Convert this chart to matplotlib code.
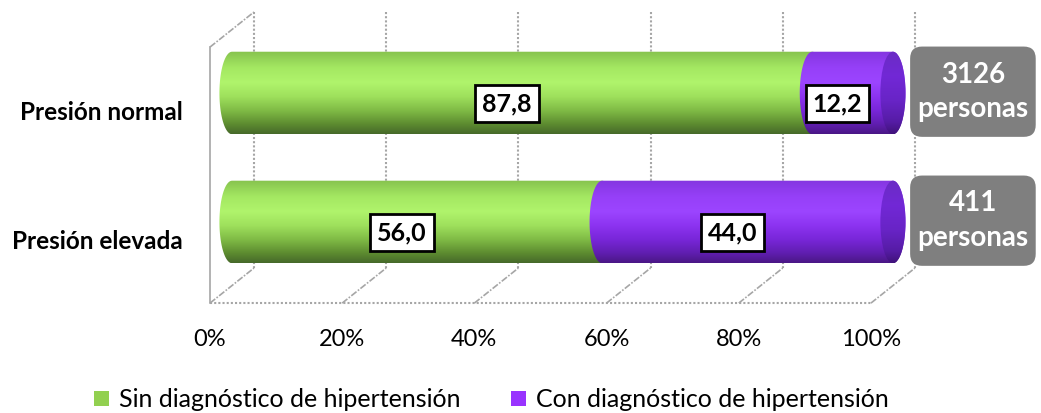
import numpy as np
import matplotlib.pyplot as plt
from matplotlib.path import Path
from matplotlib.patches import PathPatch, Ellipse, FancyBboxPatch, Patch
from matplotlib.colors import LinearSegmentedColormap

plt.rcParams['font.family'] = ['Lato', 'DejaVu Sans']

categorias = ['Presión normal', 'Presión elevada']
sin_diag = [87.8, 56.0]
con_diag = [12.2, 44.0]
personas = [3126, 411]
series = ['Sin diagnóstico de hipertensión', 'Con diagnóstico de hipertensión']
ticks = [0, 20, 40, 60, 80, 100]

fig = plt.figure(figsize=(10.41, 4.13), dpi=100)
ax = fig.add_axes([0, 0, 1, 1])
ax.axis('off')

# profundidad del efecto 3D (media profundidad en unidades de datos)
prof_x = 3.33
prof_y = 0.136
y_suelo = 1.493
y_techo = -0.492
alto = 0.64
ancho_elipse = 3.8

verde = LinearSegmentedColormap.from_list('verde', [
    (0.0, '#86c24e'), (0.2, '#a4e862'), (0.38, '#b0f46c'), (0.55, '#9ee05c'),
    (0.72, '#7fba45'), (0.88, '#5d8c30'), (1.0, '#46692a')])
morado = LinearSegmentedColormap.from_list('morado', [
    (0.0, '#8436e0'), (0.2, '#9640f8'), (0.38, '#9c45ff'), (0.55, '#8c33f0'),
    (0.72, '#7826d8'), (0.88, '#601eb0'), (1.0, '#4a1785')])
tapa = LinearSegmentedColormap.from_list('tapa', [
    (0.0, '#6a2cc4'), (0.3, '#7228d6'), (0.6, '#6824c6'), (0.85, '#561ca6'), (1.0, '#40127a')])

gris = '#a6a6a6'
punteado = (0, (1, 1))

# paredes y suelo
ax.plot([-prof_x, -prof_x], [y_suelo + prof_y, y_techo + prof_y], color=gris, lw=1.2, zorder=1)
ax.plot([-prof_x, prof_x], [y_techo + prof_y, y_techo - prof_y], color=gris, lw=1.2,
        ls=(0, (4, 1, 1, 1)), zorder=1)
ax.plot([-prof_x, 100 - prof_x], [y_suelo + prof_y] * 2, color=gris, lw=1.5, ls=punteado, zorder=1)
for t in ticks:
    ax.plot([t + prof_x, t + prof_x], [y_techo - prof_y, y_suelo - prof_y], color=gris,
            lw=1.5, ls=punteado, zorder=1)
    ax.plot([t - prof_x, t + prof_x], [y_suelo + prof_y, y_suelo - prof_y], color=gris,
            lw=1.2, ls=(0, (4, 1, 1, 1)), zorder=1)
    ax.text(t - prof_x, 1.915, f'{t}%', ha='center', va='center', fontsize=17)


def cilindro(x0, x1, yc, cmap, z):
    w, h = ancho_elipse, alto
    t = np.linspace(np.pi / 2, -np.pi / 2, 40)
    der = np.column_stack([x1 + w / 2 * np.cos(t), yc - h / 2 * np.sin(t)])
    izq = np.column_stack([x0 - w / 2 * np.cos(t), yc + h / 2 * np.sin(t)])
    verts = np.vstack([der, izq, der[:1]])
    codes = [Path.MOVETO] + [Path.LINETO] * (len(verts) - 2) + [Path.CLOSEPOLY]
    parche = PathPatch(Path(verts, codes), fc='none', ec='none', zorder=z)
    ax.add_patch(parche)
    grad = np.linspace(0, 1, 256).reshape(-1, 1)
    im = ax.imshow(grad, cmap=cmap, extent=[x0 - w, x1 + w, yc + h / 2, yc - h / 2],
                   aspect='auto', origin='upper', zorder=z)
    im.set_clip_path(parche)


for i, (cat, a, b) in enumerate(zip(categorias, sin_diag, con_diag)):
    cilindro(0, a, i, verde, 3)
    cilindro(a, a + b, i, morado, 4)
    # tapa final del cilindro
    el = Ellipse((a + b, i), ancho_elipse, alto, fc='none', ec='none', zorder=5)
    ax.add_patch(el)
    grad = np.linspace(0, 1, 256).reshape(-1, 1)
    im = ax.imshow(grad, cmap=tapa, extent=[a + b - ancho_elipse, a + b + ancho_elipse,
                                            i + alto / 2, i - alto / 2],
                   aspect='auto', origin='upper', zorder=5)
    im.set_clip_path(el)

    for x0, v in [(0, a), (a, b)]:
        ax.text(x0 + v / 2 - 2.3, i + 0.085, f'{v:.1f}'.replace('.', ','), ha='center',
                va='center', fontsize=18, fontweight='bold', zorder=6,
                bbox=dict(boxstyle='square,pad=0.28', fc='white', ec='black', lw=2))

    ax.text(-7.4, i + 0.155, cat, ha='right', va='center', fontsize=17.5, fontweight='bold')

    caja = FancyBboxPatch((102.6, i - 0.36), 19.0, 0.70,
                          boxstyle='round,pad=0,rounding_size=1.8', mutation_aspect=0.0516,
                          fc='#7f7f7f', ec='none', zorder=6)
    ax.add_patch(caja)
    ax.text(112.1, i - 0.01, f'{personas[i]}\npersonas', ha='center', va='center',
            fontsize=20, fontweight='bold', color='white', linespacing=1.4, zorder=7)

ax.set_xlim(-35.1, 122.4)
ax.set_ylim(2.481, -0.721)

fig.legend(handles=[Patch(fc='#92d050'), Patch(fc='#9933ff')], labels=series,
           loc='center', bbox_to_anchor=(0.472, 0.032), ncol=2, frameon=False, fontsize=18,
           handlelength=0.6, handleheight=0.6, columnspacing=2.0, handletextpad=0.4)

fig.savefig('out.png', dpi=100)
